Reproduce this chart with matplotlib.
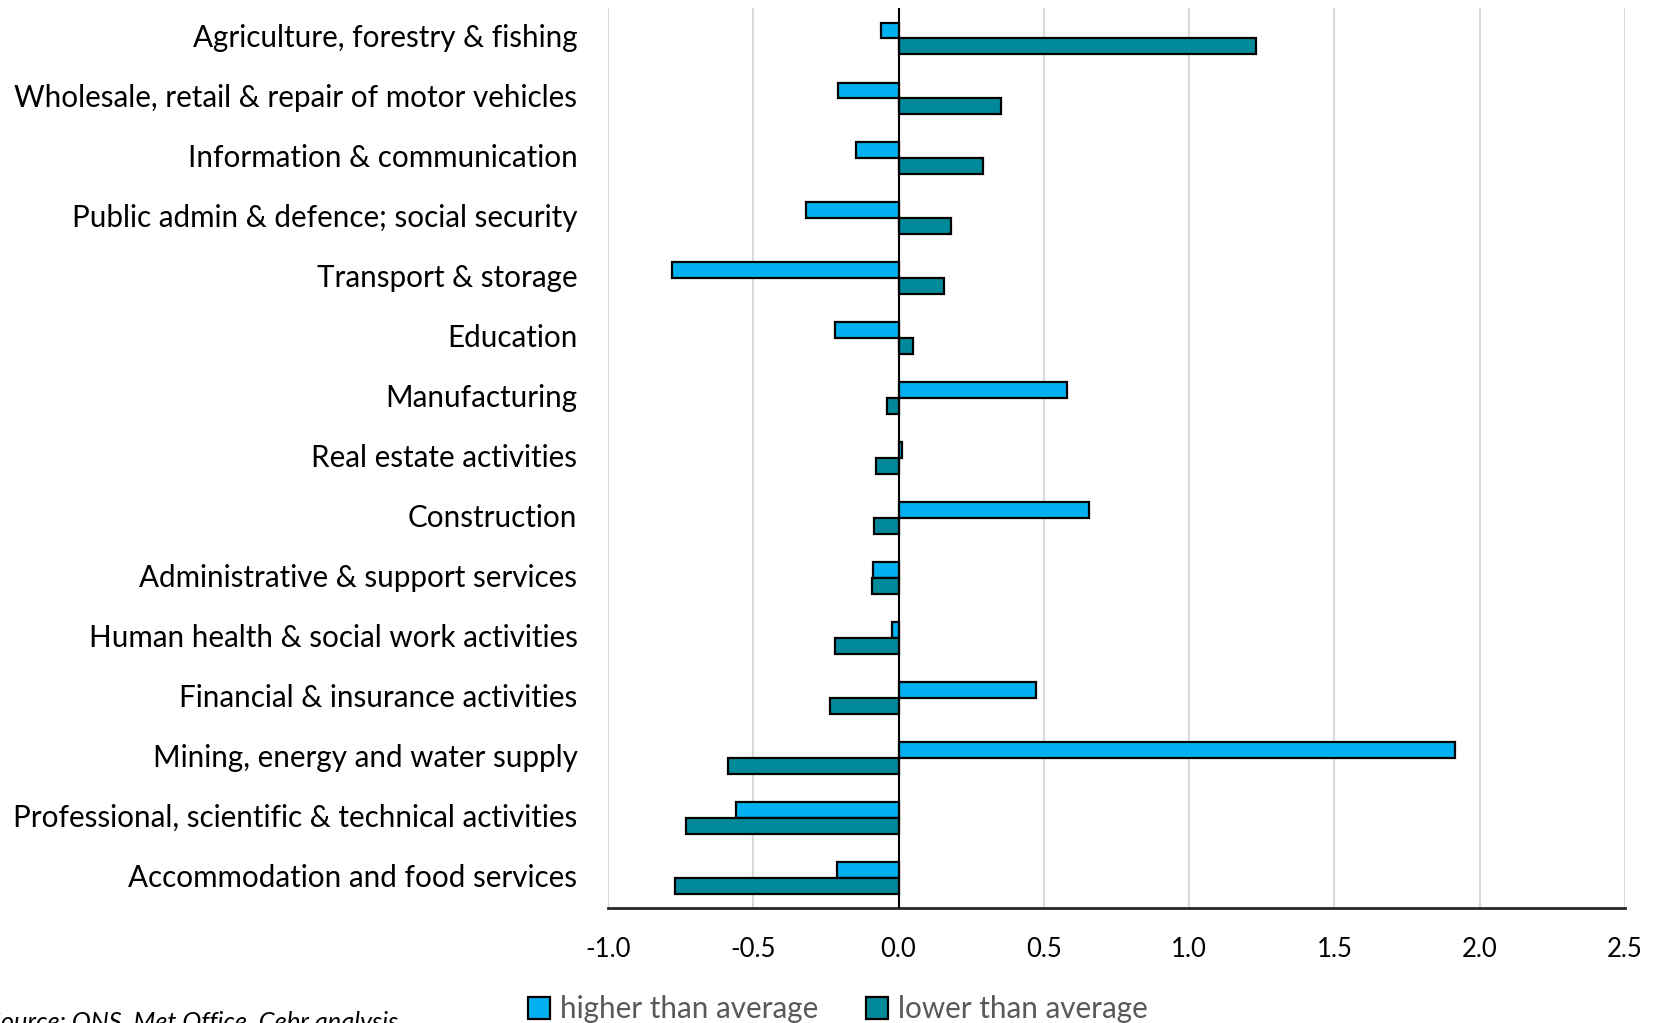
import numpy as np
import matplotlib
matplotlib.use("Agg")
import matplotlib.pyplot as plt
from matplotlib.patches import Patch

plt.rcParams['font.family'] = ['Lato', 'DejaVu Sans']

# sectors, top to bottom as in the chart
sectors = [
    "Agriculture, forestry & fishing",
    "Wholesale, retail & repair of motor vehicles",
    "Information & communication",
    "Public admin & defence; social security",
    "Transport & storage",
    "Education",
    "Manufacturing",
    "Real estate activities",
    "Construction",
    "Administrative & support services",
    "Human health & social work activities",
    "Financial & insurance activities",
    "Mining, energy and water supply",
    "Professional, scientific & technical activities",
    "Accommodation and food services",
]
higher = [-0.06, -0.21, -0.146, -0.32, -0.78, -0.22, 0.58, 0.013, 0.654,
          -0.088, -0.022, 0.474, 1.914, -0.558, -0.212]
lower = [1.229, 0.354, 0.291, 0.18, 0.157, 0.05, -0.041, -0.077, -0.086,
         -0.093, -0.22, -0.237, -0.586, -0.73, -0.768]
xticks = [-1.0, -0.5, 0.0, 0.5, 1.0, 1.5, 2.0, 2.5]

c_high = "#00B0F0"
c_low = "#00899A"

fig = plt.figure(figsize=(16.59, 10.23), dpi=100)
ax = fig.add_axes([0.3665, 0.1127, 0.613, 0.879])

y = np.arange(len(sectors))
h = 0.265
ax.barh(y - h / 2, higher, height=h, color=c_high, edgecolor="black", linewidth=1.6, zorder=3)
ax.barh(y + h / 2, lower, height=h, color=c_low, edgecolor="black", linewidth=1.6, zorder=3)

ax.set_ylim(len(sectors) - 0.5, -0.5)
ax.set_xlim(-1.0, 2.5)
ax.set_xticks(xticks)
ax.set_xticklabels([f"{v:.1f}" for v in xticks], fontsize=18.5, color="black")
ax.set_yticks(y)
ax.set_yticklabels(sectors, fontsize=21.3, color="black", va="center")
ax.tick_params(axis="both", length=0)
ax.tick_params(axis="x", pad=21)
ax.tick_params(axis="y", pad=22)

ax.grid(axis="x", color="#D9D9D9", linewidth=1.5, zorder=0)
ax.axvline(0, color="black", linewidth=1.5, zorder=4)
for s in ["top", "right", "left"]:
    ax.spines[s].set_visible(False)
ax.spines["bottom"].set_color("#262626")
ax.spines["bottom"].set_linewidth(2)

handles = [Patch(facecolor=c_high, edgecolor="black", linewidth=1.6),
           Patch(facecolor=c_low, edgecolor="black", linewidth=1.6)]
fig.legend(handles, ["higher than average", "lower than average"], loc="center",
           bbox_to_anchor=(0.505, 0.0135), ncol=2, frameon=False, fontsize=21.3,
           handlelength=0.75, handleheight=0.75, handletextpad=0.35,
           columnspacing=1.6, labelcolor="#595959")

fig.text(-0.007, 0.012, "Source: ONS, Met Office, Cebr analysis", fontsize=18.3,
         style="italic", va="top", ha="left", color="black")

fig.savefig("out.png", dpi=100)
